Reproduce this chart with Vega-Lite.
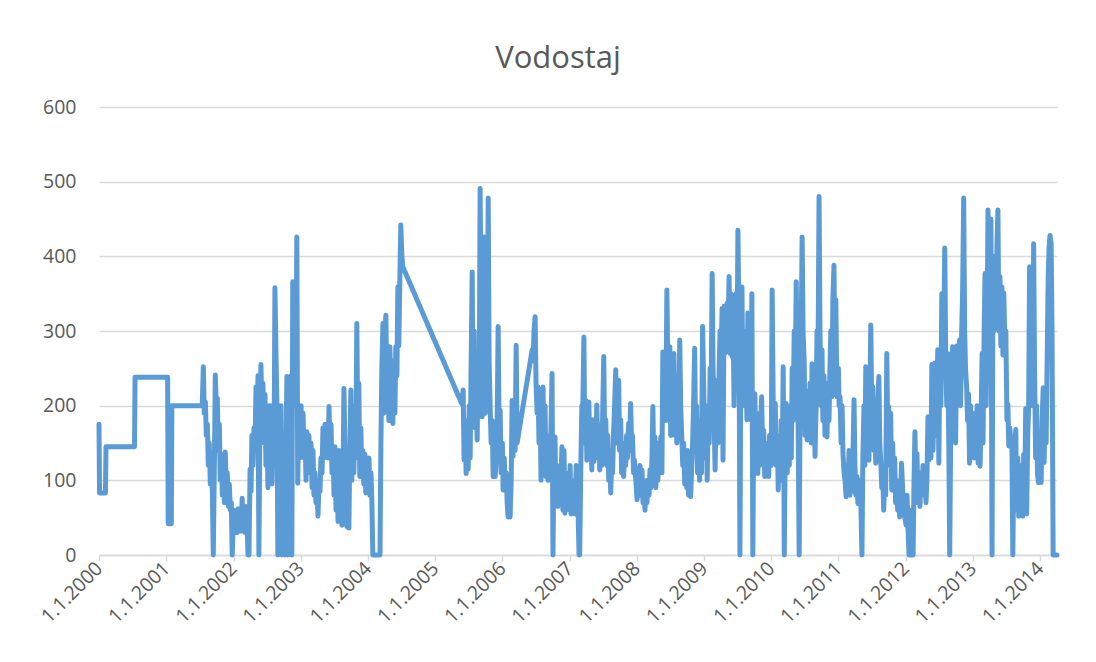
{
"$schema": "https://vega.github.io/schema/vega-lite/v6.json",
"autosize": {"type": "none"},
"width": 958,
"height": 448,
"padding": {"left": 99, "top": 107, "right": 39, "bottom": 107},
"background": "white",
"title": {"text": "Vodostaj", "anchor": "middle", "dx": -20, "offset": -2, "baseline": "alphabetic", "fontSize": 31, "font": "Open Sans", "fontWeight": "normal", "color": "#595959"},
"data": {"values": [
{"date":"2000-01-01","level":175},{"date":"2000-01-04","level":83},{"date":"2000-02-05","level":83},{"date":"2000-02-08","level":145},{"date":"2000-07-12","level":145},{"date":"2000-07-15","level":238},{"date":"2001-01-08","level":238},{"date":"2001-01-11","level":42},{"date":"2001-01-28","level":42},{"date":"2001-01-31","level":200},{"date":"2001-07-15","level":200},
{"date":"2001-07-21","level":252},{"date":"2001-07-26","level":190},{"date":"2001-08-01","level":205},{"date":"2001-08-06","level":160},{"date":"2001-08-12","level":175},{"date":"2001-08-17","level":120},{"date":"2001-08-22","level":150},{"date":"2001-08-28","level":95},{"date":"2001-09-02","level":130},{"date":"2001-09-08","level":85},{"date":"2001-09-13","level":0},{"date":"2001-09-19","level":120},{"date":"2001-09-24","level":241},{"date":"2001-09-30","level":195},{"date":"2001-10-05","level":210},{"date":"2001-10-10","level":140},{"date":"2001-10-16","level":175},{"date":"2001-10-21","level":100},{"date":"2001-10-27","level":135},{"date":"2001-11-01","level":80},{"date":"2001-11-07","level":115},{"date":"2001-11-12","level":70},{"date":"2001-11-17","level":138},{"date":"2001-11-23","level":90},{"date":"2001-11-28","level":110},{"date":"2001-12-04","level":65},{"date":"2001-12-09","level":95},{"date":"2001-12-15","level":60},{"date":"2001-12-20","level":70},{"date":"2001-12-25","level":0},{"date":"2001-12-31","level":45},
{"date":"2002-01-04","level":60},{"date":"2002-01-09","level":30},{"date":"2002-01-15","level":55},{"date":"2002-01-20","level":30},{"date":"2002-01-26","level":62},{"date":"2002-01-31","level":35},{"date":"2002-02-06","level":50},{"date":"2002-02-11","level":32},{"date":"2002-02-17","level":76},{"date":"2002-02-22","level":40},{"date":"2002-02-27","level":55},{"date":"2002-03-05","level":30},{"date":"2002-03-10","level":65},{"date":"2002-03-16","level":35},{"date":"2002-03-21","level":0},{"date":"2002-03-26","level":0},{"date":"2002-04-01","level":115},{"date":"2002-04-06","level":85},{"date":"2002-04-11","level":160},{"date":"2002-04-17","level":120},{"date":"2002-04-22","level":170},{"date":"2002-04-28","level":145},{"date":"2002-05-03","level":225},{"date":"2002-05-09","level":165},{"date":"2002-05-14","level":240},{"date":"2002-05-19","level":0},{"date":"2002-05-25","level":200},{"date":"2002-05-30","level":255},{"date":"2002-06-05","level":190},{"date":"2002-06-10","level":230},{"date":"2002-06-16","level":150},{"date":"2002-06-21","level":215},{"date":"2002-06-26","level":120},{"date":"2002-07-02","level":180},{"date":"2002-07-07","level":90},{"date":"2002-07-13","level":200},{"date":"2002-07-18","level":140},{"date":"2002-07-24","level":200},{"date":"2002-07-29","level":95},{"date":"2002-08-03","level":160},{"date":"2002-08-09","level":120},{"date":"2002-08-14","level":358},{"date":"2002-08-19","level":280},{"date":"2002-08-25","level":200},{"date":"2002-08-30","level":0},{"date":"2002-09-05","level":160},{"date":"2002-09-10","level":120},{"date":"2002-09-16","level":200},{"date":"2002-09-21","level":0},{"date":"2002-09-26","level":150},{"date":"2002-10-02","level":100},{"date":"2002-10-07","level":0},{"date":"2002-10-13","level":140},{"date":"2002-10-18","level":239},{"date":"2002-10-23","level":0},{"date":"2002-10-29","level":180},{"date":"2002-11-03","level":120},{"date":"2002-11-09","level":240},{"date":"2002-11-14","level":0},{"date":"2002-11-19","level":366},{"date":"2002-11-25","level":280},{"date":"2002-11-30","level":330},{"date":"2002-12-05","level":200},{"date":"2002-12-11","level":426},{"date":"2002-12-16","level":96},{"date":"2002-12-22","level":200},{"date":"2002-12-27","level":130},
{"date":"2003-01-03","level":200},{"date":"2003-01-08","level":160},{"date":"2003-01-14","level":190},{"date":"2003-01-19","level":130},{"date":"2003-01-25","level":155},{"date":"2003-01-30","level":100},{"date":"2003-02-04","level":165},{"date":"2003-02-10","level":120},{"date":"2003-02-15","level":160},{"date":"2003-02-21","level":110},{"date":"2003-02-26","level":150},{"date":"2003-03-04","level":90},{"date":"2003-03-09","level":140},{"date":"2003-03-14","level":80},{"date":"2003-03-20","level":110},{"date":"2003-03-25","level":70},{"date":"2003-03-31","level":90},{"date":"2003-04-05","level":52},{"date":"2003-04-11","level":100},{"date":"2003-04-16","level":85},{"date":"2003-04-21","level":130},{"date":"2003-04-27","level":110},{"date":"2003-05-02","level":170},{"date":"2003-05-08","level":130},{"date":"2003-05-13","level":175},{"date":"2003-05-18","level":140},{"date":"2003-05-24","level":165},{"date":"2003-05-29","level":130},{"date":"2003-06-04","level":199},{"date":"2003-06-09","level":150},{"date":"2003-06-15","level":175},{"date":"2003-06-20","level":110},{"date":"2003-06-26","level":140},{"date":"2003-07-01","level":80},{"date":"2003-07-06","level":145},{"date":"2003-07-12","level":60},{"date":"2003-07-17","level":130},{"date":"2003-07-23","level":45},{"date":"2003-07-28","level":140},{"date":"2003-08-02","level":50},{"date":"2003-08-08","level":120},{"date":"2003-08-13","level":40},{"date":"2003-08-19","level":100},{"date":"2003-08-24","level":223},{"date":"2003-08-29","level":150},{"date":"2003-09-04","level":60},{"date":"2003-09-09","level":38},{"date":"2003-09-15","level":120},{"date":"2003-09-20","level":36},{"date":"2003-09-25","level":140},{"date":"2003-10-01","level":221},{"date":"2003-10-06","level":100},{"date":"2003-10-12","level":180},{"date":"2003-10-17","level":110},{"date":"2003-10-22","level":200},{"date":"2003-10-28","level":130},{"date":"2003-11-02","level":310},{"date":"2003-11-08","level":150},{"date":"2003-11-13","level":230},{"date":"2003-11-18","level":105},{"date":"2003-11-24","level":170},{"date":"2003-11-29","level":110},{"date":"2003-12-05","level":140},{"date":"2003-12-10","level":95},{"date":"2003-12-16","level":135},{"date":"2003-12-21","level":83},{"date":"2003-12-26","level":120},
{"date":"2004-01-02","level":90},{"date":"2004-01-07","level":130},{"date":"2004-01-12","level":80},{"date":"2004-01-18","level":110},{"date":"2004-01-23","level":70},{"date":"2004-01-28","level":0},{"date":"2004-03-07","level":0},{"date":"2004-03-12","level":150},{"date":"2004-03-17","level":250},{"date":"2004-03-23","level":310},{"date":"2004-03-28","level":190},{"date":"2004-04-03","level":300},{"date":"2004-04-08","level":321},{"date":"2004-04-14","level":200},{"date":"2004-04-19","level":270},{"date":"2004-04-24","level":180},{"date":"2004-04-30","level":279},{"date":"2004-05-05","level":200},{"date":"2004-05-11","level":250},{"date":"2004-05-16","level":176},{"date":"2004-05-21","level":260},{"date":"2004-05-27","level":190},{"date":"2004-06-01","level":279},{"date":"2004-06-07","level":240},{"date":"2004-06-12","level":359},{"date":"2004-06-17","level":280},{"date":"2004-06-23","level":370},{"date":"2004-06-28","level":442},{"date":"2004-07-04","level":400},{"date":"2004-07-09","level":386},
{"date":"2005-05-25","level":203},{"date":"2005-06-02","level":221},{"date":"2005-06-07","level":127},{"date":"2005-06-13","level":180},{"date":"2005-06-18","level":109},{"date":"2005-06-24","level":150},{"date":"2005-06-29","level":115},{"date":"2005-07-05","level":200},{"date":"2005-07-10","level":130},{"date":"2005-07-15","level":250},{"date":"2005-07-21","level":379},{"date":"2005-07-26","level":190},{"date":"2005-08-01","level":300},{"date":"2005-08-06","level":170},{"date":"2005-08-12","level":220},{"date":"2005-08-17","level":154},{"date":"2005-08-22","level":260},{"date":"2005-08-28","level":200},{"date":"2005-09-02","level":491},{"date":"2005-09-08","level":320},{"date":"2005-09-13","level":185},{"date":"2005-09-19","level":300},{"date":"2005-09-24","level":426},{"date":"2005-09-30","level":190},{"date":"2005-10-05","level":250},{"date":"2005-10-10","level":200},{"date":"2005-10-16","level":478},{"date":"2005-10-21","level":260},{"date":"2005-10-27","level":194},{"date":"2005-11-01","level":150},{"date":"2005-11-07","level":180},{"date":"2005-11-12","level":105},{"date":"2005-11-17","level":160},{"date":"2005-11-23","level":105},{"date":"2005-11-28","level":130},{"date":"2005-12-04","level":180},{"date":"2005-12-09","level":306},{"date":"2005-12-15","level":150},{"date":"2005-12-20","level":194},{"date":"2005-12-25","level":110},
{"date":"2006-01-01","level":150},{"date":"2006-01-05","level":87},{"date":"2006-01-11","level":130},{"date":"2006-01-16","level":95},{"date":"2006-01-22","level":110},{"date":"2006-01-27","level":70},{"date":"2006-02-01","level":51},{"date":"2006-02-07","level":90},{"date":"2006-02-12","level":51},{"date":"2006-02-18","level":100},{"date":"2006-02-23","level":207},{"date":"2006-02-28","level":132},{"date":"2006-03-06","level":190},{"date":"2006-03-11","level":140},{"date":"2006-03-17","level":281},{"date":"2006-03-22","level":150},{"date":"2006-06-12","level":275},{"date":"2006-06-17","level":260},{"date":"2006-06-22","level":300},{"date":"2006-06-28","level":319},{"date":"2006-07-03","level":230},{"date":"2006-07-09","level":190},{"date":"2006-07-14","level":225},{"date":"2006-07-19","level":150},{"date":"2006-07-25","level":200},{"date":"2006-07-30","level":100},{"date":"2006-08-05","level":190},{"date":"2006-08-10","level":225},{"date":"2006-08-15","level":140},{"date":"2006-08-21","level":200},{"date":"2006-08-26","level":105},{"date":"2006-09-01","level":160},{"date":"2006-09-06","level":100},{"date":"2006-09-12","level":150},{"date":"2006-09-17","level":110},{"date":"2006-09-22","level":170},{"date":"2006-09-28","level":243},{"date":"2006-10-03","level":0},{"date":"2006-10-08","level":120},{"date":"2006-10-14","level":158},{"date":"2006-10-19","level":80},{"date":"2006-10-25","level":120},{"date":"2006-10-30","level":65},{"date":"2006-11-05","level":110},{"date":"2006-11-10","level":70},{"date":"2006-11-15","level":100},{"date":"2006-11-21","level":145},{"date":"2006-11-26","level":60},{"date":"2006-12-02","level":140},{"date":"2006-12-07","level":56},{"date":"2006-12-12","level":110},{"date":"2006-12-18","level":70},{"date":"2006-12-23","level":100},
{"date":"2007-01-01","level":60},{"date":"2007-01-04","level":120},{"date":"2007-01-09","level":55},{"date":"2007-01-15","level":100},{"date":"2007-01-20","level":60},{"date":"2007-01-26","level":90},{"date":"2007-01-31","level":55},{"date":"2007-02-06","level":120},{"date":"2007-02-11","level":80},{"date":"2007-02-16","level":60},{"date":"2007-02-22","level":0},{"date":"2007-02-25","level":0},{"date":"2007-03-04","level":130},{"date":"2007-03-09","level":200},{"date":"2007-03-12","level":150},{"date":"2007-03-15","level":210},{"date":"2007-03-20","level":292},{"date":"2007-03-25","level":150},{"date":"2007-03-31","level":207},{"date":"2007-04-05","level":127},{"date":"2007-04-11","level":180},{"date":"2007-04-16","level":205},{"date":"2007-04-21","level":140},{"date":"2007-04-27","level":160},{"date":"2007-05-02","level":114},{"date":"2007-05-08","level":181},{"date":"2007-05-13","level":125},{"date":"2007-05-18","level":170},{"date":"2007-05-24","level":130},{"date":"2007-05-29","level":201},{"date":"2007-06-04","level":140},{"date":"2007-06-09","level":175},{"date":"2007-06-14","level":114},{"date":"2007-06-20","level":150},{"date":"2007-06-25","level":120},{"date":"2007-07-01","level":200},{"date":"2007-07-06","level":266},{"date":"2007-07-11","level":150},{"date":"2007-07-17","level":181},{"date":"2007-07-22","level":120},{"date":"2007-07-28","level":160},{"date":"2007-08-02","level":100},{"date":"2007-08-07","level":140},{"date":"2007-08-13","level":83},{"date":"2007-08-18","level":130},{"date":"2007-08-23","level":110},{"date":"2007-08-29","level":170},{"date":"2007-09-03","level":200},{"date":"2007-09-09","level":248},{"date":"2007-09-14","level":150},{"date":"2007-09-19","level":200},{"date":"2007-09-25","level":234},{"date":"2007-09-30","level":140},{"date":"2007-10-06","level":181},{"date":"2007-10-11","level":110},{"date":"2007-10-16","level":150},{"date":"2007-10-22","level":105},{"date":"2007-10-27","level":140},{"date":"2007-11-02","level":120},{"date":"2007-11-07","level":160},{"date":"2007-11-12","level":130},{"date":"2007-11-18","level":176},{"date":"2007-11-23","level":140},{"date":"2007-11-29","level":203},{"date":"2007-12-04","level":150},{"date":"2007-12-09","level":160},{"date":"2007-12-15","level":110},{"date":"2007-12-20","level":127},
{"date":"2008-01-03","level":74},{"date":"2008-01-08","level":110},{"date":"2008-01-14","level":80},{"date":"2008-01-19","level":120},{"date":"2008-01-24","level":90},{"date":"2008-01-30","level":114},{"date":"2008-02-04","level":70},{"date":"2008-02-09","level":100},{"date":"2008-02-15","level":60},{"date":"2008-02-20","level":95},{"date":"2008-02-26","level":70},{"date":"2008-03-02","level":100},{"date":"2008-03-08","level":80},{"date":"2008-03-13","level":114},{"date":"2008-03-18","level":90},{"date":"2008-03-24","level":130},{"date":"2008-03-29","level":199},{"date":"2008-04-04","level":100},{"date":"2008-04-09","level":158},{"date":"2008-04-14","level":90},{"date":"2008-04-20","level":140},{"date":"2008-04-25","level":100},{"date":"2008-05-01","level":150},{"date":"2008-05-06","level":120},{"date":"2008-05-11","level":158},{"date":"2008-05-17","level":110},{"date":"2008-05-22","level":272},{"date":"2008-05-28","level":200},{"date":"2008-06-02","level":260},{"date":"2008-06-07","level":180},{"date":"2008-06-13","level":355},{"date":"2008-06-18","level":250},{"date":"2008-06-24","level":180},{"date":"2008-06-29","level":279},{"date":"2008-07-04","level":160},{"date":"2008-07-10","level":250},{"date":"2008-07-15","level":200},{"date":"2008-07-21","level":270},{"date":"2008-07-26","level":160},{"date":"2008-07-31","level":220},{"date":"2008-08-06","level":150},{"date":"2008-08-11","level":240},{"date":"2008-08-16","level":200},{"date":"2008-08-22","level":288},{"date":"2008-08-27","level":200},{"date":"2008-09-02","level":158},{"date":"2008-09-07","level":120},{"date":"2008-09-12","level":150},{"date":"2008-09-18","level":95},{"date":"2008-09-23","level":130},{"date":"2008-09-29","level":90},{"date":"2008-10-04","level":140},{"date":"2008-10-09","level":80},{"date":"2008-10-15","level":120},{"date":"2008-10-20","level":78},{"date":"2008-10-25","level":110},{"date":"2008-10-31","level":150},{"date":"2008-11-05","level":200},{"date":"2008-11-11","level":277},{"date":"2008-11-16","level":150},{"date":"2008-11-21","level":200},{"date":"2008-11-27","level":110},{"date":"2008-12-02","level":150},{"date":"2008-12-08","level":100},{"date":"2008-12-13","level":180},{"date":"2008-12-18","level":110},{"date":"2008-12-24","level":306},
{"date":"2009-01-01","level":200},{"date":"2009-01-07","level":130},{"date":"2009-01-12","level":200},{"date":"2009-01-18","level":100},{"date":"2009-01-23","level":180},{"date":"2009-01-29","level":150},{"date":"2009-02-03","level":250},{"date":"2009-02-08","level":200},{"date":"2009-02-14","level":377},{"date":"2009-02-19","level":250},{"date":"2009-02-25","level":180},{"date":"2009-03-02","level":114},{"date":"2009-03-07","level":200},{"date":"2009-03-13","level":234},{"date":"2009-03-18","level":150},{"date":"2009-03-24","level":250},{"date":"2009-03-29","level":300},{"date":"2009-04-03","level":261},{"date":"2009-04-09","level":330},{"date":"2009-04-14","level":127},{"date":"2009-04-20","level":333},{"date":"2009-04-25","level":270},{"date":"2009-04-30","level":320},{"date":"2009-05-06","level":337},{"date":"2009-05-11","level":290},{"date":"2009-05-17","level":373},{"date":"2009-05-22","level":270},{"date":"2009-05-27","level":350},{"date":"2009-06-02","level":266},{"date":"2009-06-07","level":340},{"date":"2009-06-13","level":200},{"date":"2009-06-18","level":300},{"date":"2009-06-23","level":350},{"date":"2009-06-29","level":250},{"date":"2009-07-04","level":435},{"date":"2009-07-10","level":300},{"date":"2009-07-15","level":0},{"date":"2009-07-20","level":250},{"date":"2009-07-26","level":359},{"date":"2009-07-31","level":216},{"date":"2009-08-05","level":300},{"date":"2009-08-11","level":200},{"date":"2009-08-16","level":280},{"date":"2009-08-22","level":181},{"date":"2009-08-27","level":324},{"date":"2009-09-01","level":200},{"date":"2009-09-07","level":250},{"date":"2009-09-12","level":181},{"date":"2009-09-18","level":350},{"date":"2009-09-23","level":0},{"date":"2009-09-28","level":180},{"date":"2009-10-04","level":216},{"date":"2009-10-09","level":140},{"date":"2009-10-15","level":190},{"date":"2009-10-20","level":109},{"date":"2009-10-25","level":160},{"date":"2009-10-31","level":120},{"date":"2009-11-05","level":180},{"date":"2009-11-10","level":212},{"date":"2009-11-16","level":130},{"date":"2009-11-21","level":167},{"date":"2009-11-27","level":105},{"date":"2009-12-02","level":150},{"date":"2009-12-07","level":110},{"date":"2009-12-13","level":140},{"date":"2009-12-18","level":105},{"date":"2009-12-23","level":160},
{"date":"2010-01-01","level":120},{"date":"2010-01-06","level":355},{"date":"2010-01-12","level":200},{"date":"2010-01-17","level":150},{"date":"2010-01-23","level":203},{"date":"2010-01-28","level":120},{"date":"2010-02-03","level":160},{"date":"2010-02-08","level":87},{"date":"2010-02-13","level":140},{"date":"2010-02-19","level":100},{"date":"2010-02-24","level":180},{"date":"2010-03-02","level":120},{"date":"2010-03-07","level":252},{"date":"2010-03-10","level":150},{"date":"2010-03-13","level":0},{"date":"2010-03-18","level":150},{"date":"2010-03-23","level":203},{"date":"2010-03-29","level":110},{"date":"2010-04-03","level":180},{"date":"2010-04-09","level":120},{"date":"2010-04-14","level":200},{"date":"2010-04-20","level":130},{"date":"2010-04-25","level":250},{"date":"2010-04-30","level":180},{"date":"2010-05-06","level":300},{"date":"2010-05-11","level":220},{"date":"2010-05-17","level":366},{"date":"2010-05-22","level":250},{"date":"2010-05-27","level":180},{"date":"2010-06-02","level":0},{"date":"2010-06-07","level":200},{"date":"2010-06-13","level":300},{"date":"2010-06-18","level":426},{"date":"2010-06-23","level":300},{"date":"2010-06-29","level":261},{"date":"2010-07-04","level":160},{"date":"2010-07-10","level":220},{"date":"2010-07-15","level":154},{"date":"2010-07-20","level":200},{"date":"2010-07-26","level":170},{"date":"2010-07-31","level":230},{"date":"2010-08-06","level":150},{"date":"2010-08-11","level":256},{"date":"2010-08-16","level":180},{"date":"2010-08-22","level":220},{"date":"2010-08-27","level":132},{"date":"2010-09-02","level":200},{"date":"2010-09-07","level":300},{"date":"2010-09-12","level":250},{"date":"2010-09-18","level":480},{"date":"2010-09-23","level":300},{"date":"2010-09-29","level":200},{"date":"2010-10-04","level":275},{"date":"2010-10-09","level":180},{"date":"2010-10-15","level":240},{"date":"2010-10-20","level":160},{"date":"2010-10-26","level":200},{"date":"2010-10-31","level":158},{"date":"2010-11-05","level":230},{"date":"2010-11-11","level":180},{"date":"2010-11-16","level":250},{"date":"2010-11-21","level":300},{"date":"2010-11-27","level":212},{"date":"2010-12-02","level":342},{"date":"2010-12-08","level":388},{"date":"2010-12-13","level":250},{"date":"2010-12-18","level":342},{"date":"2010-12-24","level":212},
{"date":"2011-01-01","level":250},{"date":"2011-01-05","level":200},{"date":"2011-01-10","level":212},{"date":"2011-01-16","level":150},{"date":"2011-01-21","level":200},{"date":"2011-01-26","level":136},{"date":"2011-02-01","level":110},{"date":"2011-02-06","level":100},{"date":"2011-02-12","level":78},{"date":"2011-02-17","level":120},{"date":"2011-02-22","level":90},{"date":"2011-02-28","level":140},{"date":"2011-03-05","level":80},{"date":"2011-03-10","level":110},{"date":"2011-03-16","level":85},{"date":"2011-03-21","level":130},{"date":"2011-03-27","level":208},{"date":"2011-04-01","level":120},{"date":"2011-04-06","level":80},{"date":"2011-04-12","level":105},{"date":"2011-04-17","level":69},{"date":"2011-04-23","level":100},{"date":"2011-04-28","level":75},{"date":"2011-05-03","level":69},{"date":"2011-05-09","level":0},{"date":"2011-05-14","level":130},{"date":"2011-05-20","level":200},{"date":"2011-05-25","level":120},{"date":"2011-05-30","level":252},{"date":"2011-06-05","level":150},{"date":"2011-06-10","level":210},{"date":"2011-06-16","level":127},{"date":"2011-06-21","level":200},{"date":"2011-06-26","level":308},{"date":"2011-07-02","level":180},{"date":"2011-07-07","level":225},{"date":"2011-07-13","level":140},{"date":"2011-07-18","level":180},{"date":"2011-07-23","level":123},{"date":"2011-07-29","level":170},{"date":"2011-08-03","level":200},{"date":"2011-08-09","level":239},{"date":"2011-08-14","level":150},{"date":"2011-08-19","level":127},{"date":"2011-08-25","level":90},{"date":"2011-08-30","level":110},{"date":"2011-09-04","level":60},{"date":"2011-09-10","level":100},{"date":"2011-09-15","level":80},{"date":"2011-09-21","level":270},{"date":"2011-09-26","level":160},{"date":"2011-10-01","level":199},{"date":"2011-10-07","level":120},{"date":"2011-10-12","level":190},{"date":"2011-10-18","level":87},{"date":"2011-10-23","level":150},{"date":"2011-10-28","level":100},{"date":"2011-11-03","level":130},{"date":"2011-11-08","level":70},{"date":"2011-11-14","level":100},{"date":"2011-11-19","level":60},{"date":"2011-11-24","level":90},{"date":"2011-11-30","level":51},{"date":"2011-12-05","level":80},{"date":"2011-12-10","level":123},{"date":"2011-12-16","level":90},{"date":"2011-12-21","level":60},
{"date":"2012-01-04","level":40},{"date":"2012-01-09","level":80},{"date":"2012-01-15","level":30},{"date":"2012-01-20","level":0},{"date":"2012-01-25","level":60},{"date":"2012-01-31","level":0},{"date":"2012-02-05","level":45},{"date":"2012-02-11","level":0},{"date":"2012-02-16","level":100},{"date":"2012-02-21","level":165},{"date":"2012-02-27","level":90},{"date":"2012-03-03","level":136},{"date":"2012-03-09","level":70},{"date":"2012-03-14","level":110},{"date":"2012-03-19","level":65},{"date":"2012-03-25","level":100},{"date":"2012-03-30","level":80},{"date":"2012-04-05","level":120},{"date":"2012-04-10","level":90},{"date":"2012-04-15","level":110},{"date":"2012-04-21","level":70},{"date":"2012-04-26","level":100},{"date":"2012-05-02","level":185},{"date":"2012-05-07","level":127},{"date":"2012-05-12","level":160},{"date":"2012-05-18","level":130},{"date":"2012-05-23","level":255},{"date":"2012-05-29","level":140},{"date":"2012-06-03","level":200},{"date":"2012-06-08","level":257},{"date":"2012-06-14","level":160},{"date":"2012-06-19","level":200},{"date":"2012-06-24","level":275},{"date":"2012-06-30","level":123},{"date":"2012-07-05","level":275},{"date":"2012-07-11","level":200},{"date":"2012-07-16","level":350},{"date":"2012-07-21","level":250},{"date":"2012-07-27","level":300},{"date":"2012-08-01","level":411},{"date":"2012-08-07","level":250},{"date":"2012-08-12","level":200},{"date":"2012-08-17","level":270},{"date":"2012-08-23","level":150},{"date":"2012-08-28","level":0},{"date":"2012-09-02","level":150},{"date":"2012-09-08","level":250},{"date":"2012-09-13","level":279},{"date":"2012-09-19","level":180},{"date":"2012-09-24","level":250},{"date":"2012-09-29","level":150},{"date":"2012-10-05","level":280},{"date":"2012-10-10","level":200},{"date":"2012-10-16","level":260},{"date":"2012-10-21","level":288},{"date":"2012-10-26","level":200},{"date":"2012-11-01","level":300},{"date":"2012-11-06","level":350},{"date":"2012-11-12","level":478},{"date":"2012-11-17","level":300},{"date":"2012-11-22","level":250},{"date":"2012-11-28","level":225},{"date":"2012-12-03","level":180},{"date":"2012-12-08","level":216},{"date":"2012-12-14","level":123},{"date":"2012-12-19","level":200},{"date":"2012-12-25","level":150},
{"date":"2013-01-03","level":190},{"date":"2013-01-08","level":130},{"date":"2013-01-13","level":180},{"date":"2013-01-19","level":145},{"date":"2013-01-24","level":200},{"date":"2013-01-29","level":123},{"date":"2013-02-04","level":174},{"date":"2013-02-09","level":119},{"date":"2013-02-15","level":190},{"date":"2013-02-20","level":270},{"date":"2013-02-25","level":150},{"date":"2013-03-03","level":300},{"date":"2013-03-08","level":377},{"date":"2013-03-14","level":200},{"date":"2013-03-19","level":300},{"date":"2013-03-24","level":462},{"date":"2013-03-30","level":262},{"date":"2013-04-04","level":300},{"date":"2013-04-09","level":450},{"date":"2013-04-15","level":0},{"date":"2013-04-20","level":370},{"date":"2013-04-25","level":300},{"date":"2013-05-01","level":400},{"date":"2013-05-06","level":306},{"date":"2013-05-12","level":420},{"date":"2013-05-17","level":462},{"date":"2013-05-22","level":300},{"date":"2013-05-28","level":373},{"date":"2013-06-02","level":280},{"date":"2013-06-08","level":359},{"date":"2013-06-13","level":268},{"date":"2013-06-18","level":351},{"date":"2013-06-24","level":275},{"date":"2013-06-29","level":300},{"date":"2013-07-05","level":181},{"date":"2013-07-10","level":202},{"date":"2013-07-15","level":146},{"date":"2013-07-21","level":170},{"date":"2013-07-26","level":150},{"date":"2013-08-01","level":146},{"date":"2013-08-06","level":0},{"date":"2013-08-11","level":120},{"date":"2013-08-17","level":150},{"date":"2013-08-22","level":168},{"date":"2013-08-27","level":60},{"date":"2013-09-02","level":130},{"date":"2013-09-07","level":52},{"date":"2013-09-13","level":100},{"date":"2013-09-18","level":70},{"date":"2013-09-23","level":120},{"date":"2013-09-29","level":52},{"date":"2013-10-04","level":135},{"date":"2013-10-10","level":90},{"date":"2013-10-15","level":196},{"date":"2013-10-20","level":55},{"date":"2013-10-26","level":160},{"date":"2013-10-31","level":200},{"date":"2013-11-05","level":386},{"date":"2013-11-11","level":250},{"date":"2013-11-16","level":370},{"date":"2013-11-22","level":200},{"date":"2013-11-27","level":417},{"date":"2013-12-02","level":250},{"date":"2013-12-08","level":130},{"date":"2013-12-13","level":200},{"date":"2013-12-18","level":108},{"date":"2013-12-24","level":97},
{"date":"2014-01-01","level":120},{"date":"2014-01-07","level":97},{"date":"2014-01-12","level":180},{"date":"2014-01-18","level":224},{"date":"2014-01-23","level":124},{"date":"2014-01-28","level":200},{"date":"2014-02-03","level":150},{"date":"2014-02-08","level":250},{"date":"2014-02-14","level":370},{"date":"2014-02-19","level":412},{"date":"2014-02-24","level":428},{"date":"2014-03-02","level":417},{"date":"2014-03-07","level":300},{"date":"2014-03-13","level":0},{"date":"2014-04-03","level":0}
]},
"mark": {"type": "line", "color": "#5b9bd5", "strokeWidth": 5, "strokeJoin": "round", "strokeCap": "round"},
"encoding": {
"x": {"field": "date", "type": "temporal",
"scale": {"type": "utc", "domain": [{"year": 2000, "month": 1, "date": 1, "utc": true}, {"year": 2014, "month": 4, "date": 3, "utc": true}]},
"axis": {"title": null, "format": "%-d.%-m.%Y", "values": [
{"year": 2000, "month": 1, "date": 1, "utc": true},{"year": 2001, "month": 1, "date": 1, "utc": true},{"year": 2002, "month": 1, "date": 1, "utc": true},{"year": 2003, "month": 1, "date": 1, "utc": true},{"year": 2004, "month": 1, "date": 1, "utc": true},{"year": 2005, "month": 1, "date": 1, "utc": true},{"year": 2006, "month": 1, "date": 1, "utc": true},{"year": 2007, "month": 1, "date": 1, "utc": true},{"year": 2008, "month": 1, "date": 1, "utc": true},{"year": 2009, "month": 1, "date": 1, "utc": true},{"year": 2010, "month": 1, "date": 1, "utc": true},{"year": 2011, "month": 1, "date": 1, "utc": true},{"year": 2012, "month": 1, "date": 1, "utc": true},{"year": 2013, "month": 1, "date": 1, "utc": true},{"year": 2014, "month": 1, "date": 1, "utc": true}],
"labelAngle": -45, "labelAlign": "right", "labelBaseline": "middle", "labelFont": "Open Sans", "labelFontSize": 19.5, "labelColor": "#595959", "labelPadding": 4, "labelOverlap": false, "labelBound": false,
"grid": false, "domainColor": "#d9d9d9", "domainWidth": 1.5, "tickColor": "#d9d9d9", "tickWidth": 1.5, "tickSize": 6}},
"y": {"field": "level", "type": "quantitative",
"scale": {"domain": [0, 600], "nice": false},
"axis": {"title": null, "values": [0, 100, 200, 300, 400, 500, 600], "domain": false, "ticks": false, "grid": true, "gridColor": "#d9d9d9", "gridWidth": 1.5, "labelFont": "Open Sans", "labelFontSize": 19.5, "labelColor": "#595959", "labelPadding": 23}}
},
"config": {"view": {"stroke": null}}
}
